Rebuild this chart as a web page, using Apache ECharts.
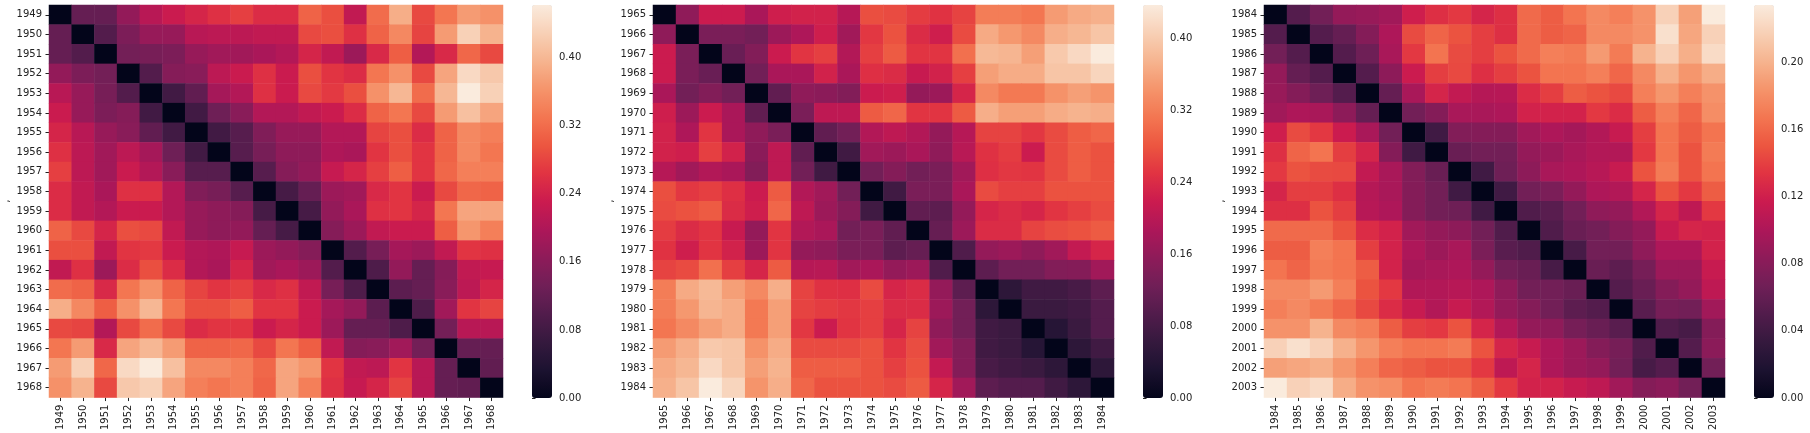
<!DOCTYPE html>
<html>
<head>
<meta charset="utf-8">
<script src="https://cdn.jsdelivr.net/npm/echarts@6/dist/echarts.min.js"></script>
<style>
  html, body { margin: 0; padding: 0; background: #ffffff; }
  #chart { width: 1810px; height: 433px; }
</style>
</head>
<body>
<div id="chart"></div>
<script>
// ---------- DATA ----------
const years1 = ['1949','1950','1951','1952','1953','1954','1955','1956','1957','1958','1959','1960','1961','1962','1963','1964','1965','1966','1967','1968'];
const years2 = ['1965','1966','1967','1968','1969','1970','1971','1972','1973','1974','1975','1976','1977','1978','1979','1980','1981','1982','1983','1984'];
const years3 = ['1984','1985','1986','1987','1988','1989','1990','1991','1992','1993','1994','1995','1996','1997','1998','1999','2000','2001','2002','2003'];

// Upper triangle of each (symmetric) distance matrix: row i holds the values for columns i+1 .. 19
const upper1 = [
  [0.12,0.12,0.17,0.21,0.23,0.245,0.26,0.275,0.255,0.255,0.31,0.29,0.22,0.32,0.39,0.285,0.33,0.37,0.36],
  [0.10,0.145,0.175,0.175,0.21,0.215,0.215,0.22,0.22,0.285,0.29,0.26,0.31,0.35,0.28,0.37,0.43,0.395],
  [0.135,0.14,0.145,0.175,0.185,0.185,0.195,0.205,0.245,0.22,0.18,0.25,0.305,0.205,0.25,0.315,0.285],
  [0.10,0.155,0.16,0.215,0.23,0.26,0.23,0.29,0.265,0.255,0.33,0.36,0.285,0.38,0.44,0.42],
  [0.08,0.115,0.19,0.205,0.26,0.23,0.285,0.27,0.29,0.36,0.40,0.32,0.40,0.462,0.43],
  [0.08,0.13,0.16,0.205,0.205,0.22,0.23,0.255,0.31,0.33,0.285,0.37,0.41,0.38],
  [0.08,0.105,0.15,0.175,0.175,0.205,0.205,0.28,0.29,0.255,0.31,0.35,0.34],
  [0.105,0.14,0.165,0.165,0.20,0.195,0.265,0.29,0.265,0.31,0.35,0.33],
  [0.105,0.155,0.17,0.225,0.245,0.275,0.305,0.265,0.315,0.34,0.34],
  [0.085,0.12,0.18,0.185,0.25,0.265,0.23,0.285,0.315,0.31],
  [0.085,0.17,0.195,0.26,0.265,0.245,0.33,0.38,0.38],
  [0.155,0.18,0.22,0.23,0.23,0.305,0.365,0.34],
  [0.10,0.14,0.19,0.18,0.22,0.265,0.26],
  [0.095,0.17,0.12,0.155,0.22,0.225],
  [0.11,0.12,0.16,0.215,0.245],
  [0.095,0.185,0.265,0.28],
  [0.135,0.21,0.21],
  [0.12,0.12],
  [0.115],
  []
];
const upper2 = [
  [0.157,0.219,0.219,0.184,0.223,0.227,0.227,0.197,0.275,0.271,0.258,0.249,0.264,0.319,0.319,0.312,0.350,0.365,0.371],
  [0.135,0.135,0.127,0.170,0.188,0.223,0.175,0.253,0.277,0.240,0.223,0.271,0.365,0.347,0.332,0.369,0.378,0.393],
  [0.118,0.144,0.219,0.251,0.260,0.192,0.260,0.286,0.251,0.251,0.306,0.380,0.376,0.354,0.398,0.415,0.437],
  [0.127,0.184,0.184,0.227,0.184,0.245,0.240,0.214,0.227,0.260,0.354,0.367,0.367,0.393,0.393,0.411],
  [0.109,0.157,0.153,0.144,0.219,0.223,0.162,0.170,0.232,0.332,0.315,0.315,0.341,0.354,0.343],
  [0.135,0.205,0.205,0.286,0.297,0.251,0.251,0.286,0.369,0.354,0.354,0.367,0.374,0.369],
  [0.109,0.127,0.192,0.205,0.192,0.162,0.197,0.264,0.264,0.253,0.271,0.288,0.297],
  [0.074,0.175,0.170,0.184,0.157,0.199,0.247,0.258,0.219,0.271,0.288,0.277],
  [0.127,0.146,0.127,0.135,0.175,0.245,0.253,0.251,0.271,0.288,0.277],
  [0.074,0.135,0.135,0.184,0.271,0.260,0.260,0.277,0.277,0.277],
  [0.109,0.105,0.162,0.232,0.240,0.232,0.251,0.260,0.271],
  [0.114,0.170,0.240,0.240,0.264,0.273,0.277,0.286],
  [0.092,0.162,0.170,0.157,0.175,0.210,0.232],
  [0.105,0.127,0.127,0.144,0.146,0.175],
  [0.052,0.074,0.074,0.083,0.105],
  [0.068,0.068,0.074,0.096],
  [0.044,0.068,0.096],
  [0.052,0.074],
  [0.052],
  []
];
const upper3 = [
  [0.051,0.068,0.087,0.089,0.094,0.119,0.131,0.136,0.124,0.131,0.161,0.154,0.166,0.178,0.172,0.183,0.218,0.190,0.234],
  [0.051,0.061,0.078,0.101,0.145,0.158,0.149,0.139,0.131,0.161,0.154,0.158,0.178,0.178,0.183,0.227,0.193,0.218],
  [0.051,0.066,0.098,0.136,0.166,0.145,0.139,0.149,0.161,0.172,0.170,0.187,0.170,0.200,0.218,0.198,0.224],
  [0.051,0.083,0.117,0.139,0.144,0.131,0.139,0.149,0.166,0.166,0.172,0.159,0.178,0.199,0.185,0.197],
  [0.061,0.098,0.124,0.112,0.105,0.106,0.129,0.139,0.154,0.149,0.144,0.172,0.185,0.172,0.183],
  [0.068,0.078,0.098,0.098,0.101,0.122,0.122,0.122,0.136,0.129,0.154,0.172,0.159,0.180],
  [0.040,0.077,0.078,0.078,0.094,0.101,0.096,0.103,0.115,0.139,0.166,0.154,0.166],
  [0.063,0.068,0.068,0.087,0.091,0.098,0.103,0.103,0.136,0.166,0.149,0.170],
  [0.040,0.066,0.083,0.098,0.101,0.106,0.115,0.149,0.170,0.149,0.166],
  [0.040,0.068,0.073,0.087,0.101,0.103,0.124,0.149,0.136,0.154],
  [0.049,0.054,0.068,0.084,0.087,0.103,0.124,0.110,0.136],
  [0.049,0.063,0.068,0.078,0.087,0.115,0.124,0.122],
  [0.044,0.068,0.068,0.084,0.101,0.101,0.122],
  [0.063,0.056,0.070,0.091,0.091,0.115],
  [0.051,0.063,0.078,0.087,0.110],
  [0.054,0.070,0.068,0.094],
  [0.049,0.044,0.078],
  [0.051,0.082],
  [0.068],
  []
];

// colour-bar scale: top of each bar (data maximum) and the highest labelled tick
const barMax = [0.462, 0.437, 0.234];
const tickMax = [0.40, 0.40, 0.20];
const tickStep = [0.08, 0.08, 0.04];

// seaborn "rocket" colormap stops
const rocket = ['#03051a','#1c1230','#35193e','#521c4c','#701f57','#8e1b59','#ad1759','#cb1b4f',
                '#e13342','#ec5640','#f37651','#f5946b','#f6b48f','#f8d0b6','#faebdd'];

// ---------- BUILD ----------
function buildData(upper) {
  const out = [];
  const n = upper.length;
  for (let i = 0; i < n; i++) {
    for (let j = 0; j < n; j++) {
      let v;
      if (i === j) v = 0;
      else if (j > i) v = upper[i][j - i - 1];
      else v = upper[j][i - j - 1];
      out.push([j, i, v]);
    }
  }
  return out;
}

const panelLeft = [42, 653, 1264];
const barLeft = [532, 1143, 1754];
const plotTop = 5, plotH = 393, plotW = 461, barW = 20;
const yearsAll = [years1, years2, years3];
const uppersAll = [upper1, upper2, upper3];

const txt = { color: '#222', fontFamily: 'DejaVu Sans', fontSize: 10 };

const grids = [], xAxes = [], yAxes = [], series = [], vmaps = [];
for (let k = 0; k < 3; k++) {
  grids.push({ left: panelLeft[k], top: plotTop, width: plotW, height: plotH, containLabel: false });
  xAxes.push({
    type: 'category', gridIndex: k, data: yearsAll[k], position: 'bottom',
    axisLine: { show: false },
    axisTick: { show: true, alignWithLabel: true, interval: 0, length: 3.5, lineStyle: { color: '#222', width: 1 } },
    axisLabel: Object.assign({ interval: 0, rotate: 90, margin: 7 }, txt),
    splitLine: { show: false }
  });
  yAxes.push({
    type: 'category', gridIndex: k, data: yearsAll[k], inverse: true,
    name: ',', nameLocation: 'middle', nameRotate: 90, nameGap: 38,
    nameTextStyle: { color: '#222', fontFamily: 'DejaVu Sans', fontSize: 10 },
    axisLine: { show: false },
    axisTick: { show: true, alignWithLabel: true, interval: 0, length: 3.5, lineStyle: { color: '#222', width: 1 } },
    axisLabel: Object.assign({ interval: 0, margin: 7 }, txt),
    splitLine: { show: false }
  });
  series.push({
    type: 'heatmap', xAxisIndex: k, yAxisIndex: k,
    data: buildData(uppersAll[k]),
    itemStyle: { borderWidth: 0 },
    emphasis: { disabled: true },
    progressive: 0
  });
  vmaps.push({
    type: 'continuous', seriesIndex: k, dimension: 2,
    min: 0, max: barMax[k], orient: 'vertical',
    left: barLeft[k], top: plotTop, itemWidth: barW, itemHeight: plotH,
    padding: 0, calculable: false, hoverLink: false, realtime: false,
    inRange: { color: rocket }
  });
}
// colour-bar tick axes
for (let k = 0; k < 3; k++) {
  const h = plotH * tickMax[k] / barMax[k];
  grids.push({ left: barLeft[k], top: plotTop + plotH - h, width: barW, height: h });
  xAxes.push({ type: 'value', gridIndex: 3 + k, show: false, min: 0, max: 1 });
  yAxes.push({
    type: 'value', gridIndex: 3 + k, position: 'right', min: 0, max: tickMax[k], interval: tickStep[k],
    axisLine: { show: false },
    axisTick: { show: true, length: 3.5, lineStyle: { color: '#222', width: 1 } },
    axisLabel: Object.assign({ margin: 7, formatter: v => v.toFixed(2) }, txt),
    splitLine: { show: false }
  });
}

const chart = echarts.init(document.getElementById('chart'), null, { renderer: 'canvas' });
chart.setOption({
  animation: false,
  backgroundColor: '#ffffff',
  grid: grids,
  xAxis: xAxes,
  yAxis: yAxes,
  visualMap: vmaps,
  series: series
});
</script>
</body>
</html>
